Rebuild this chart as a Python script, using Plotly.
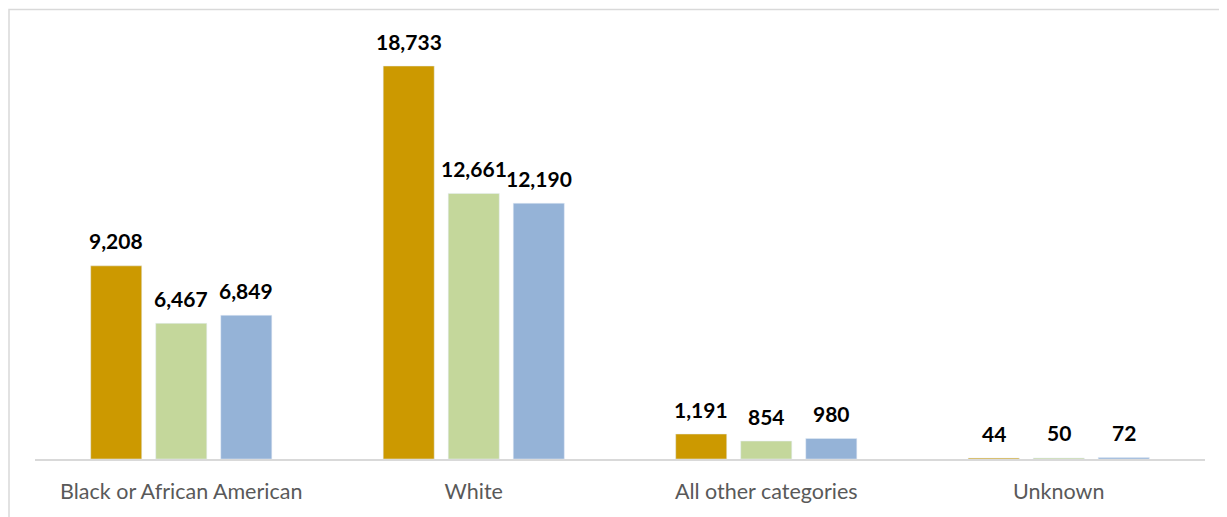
import plotly.graph_objects as go

categories = ["Black or African American", "White", "All other categories", "Unknown"]
series_a = [9208, 18733, 1191, 44]
series_b = [6467, 12661, 854, 50]
series_c = [6849, 12190, 980, 72]
series_names = ["Series 1", "Series 2", "Series 3"]
colors = ["#CC9900", "#C4D79B", "#95B3D7"]

# page offset of the figure (body margin) is 8px; layout compensates
W, H = 1219, 509
L, R, T, B = 27, 22, 12, 58
plot_w = W - L - R
cat_w = plot_w / len(categories)
bargap = 0.333
slot_w = cat_w * (1 - bargap) / 3

fig = go.Figure()
all_series = [series_a, series_b, series_c]
for name, vals, col in zip(series_names, all_series, colors):
    fig.add_trace(go.Bar(
        x=categories, y=vals, name=name, marker_color=col,
    ))

annotations = []
for i, vals in enumerate(all_series):
    for cat, v in zip(categories, vals):
        annotations.append(dict(
            x=cat, y=v, xref="x", yref="y", text=f"<b>{v:,}</b>",
            showarrow=False, xshift=(i - 1) * slot_w, yshift=25,
            yanchor="middle", xanchor="center",
            font=dict(family="Lato", size=21, color="#000000"),
        ))

plot_h = H - T - B
ymax = plot_h / (393 / 18733)

fig.update_layout(
    width=W, height=H,
    margin=dict(l=L, r=R, t=T, b=B),
    paper_bgcolor="white", plot_bgcolor="white",
    barmode="group", bargap=bargap, bargroupgap=0.215,
    showlegend=False,
    font=dict(family="Lato"),
    xaxis=dict(showline=True, linecolor="#D9D9D9", linewidth=1.5,
               tickfont=dict(family="Lato", size=21.5, color="#595959"),
               ticks="", ticklabelstandoff=12, automargin=False),
    yaxis=dict(visible=False, range=[0, ymax]),
    annotations=annotations,
    shapes=[dict(type="rect", xref="paper", yref="paper",
                 x0=(1 - L) / plot_w, x1=(W + 20 - L) / plot_w,
                 y0=-(B + 20) / plot_h, y1=(plot_h + T - 1.5) / plot_h,
                 line=dict(color="#D9D9D9", width=1.5), layer="below")],
)
fig.write_html("out.html")
